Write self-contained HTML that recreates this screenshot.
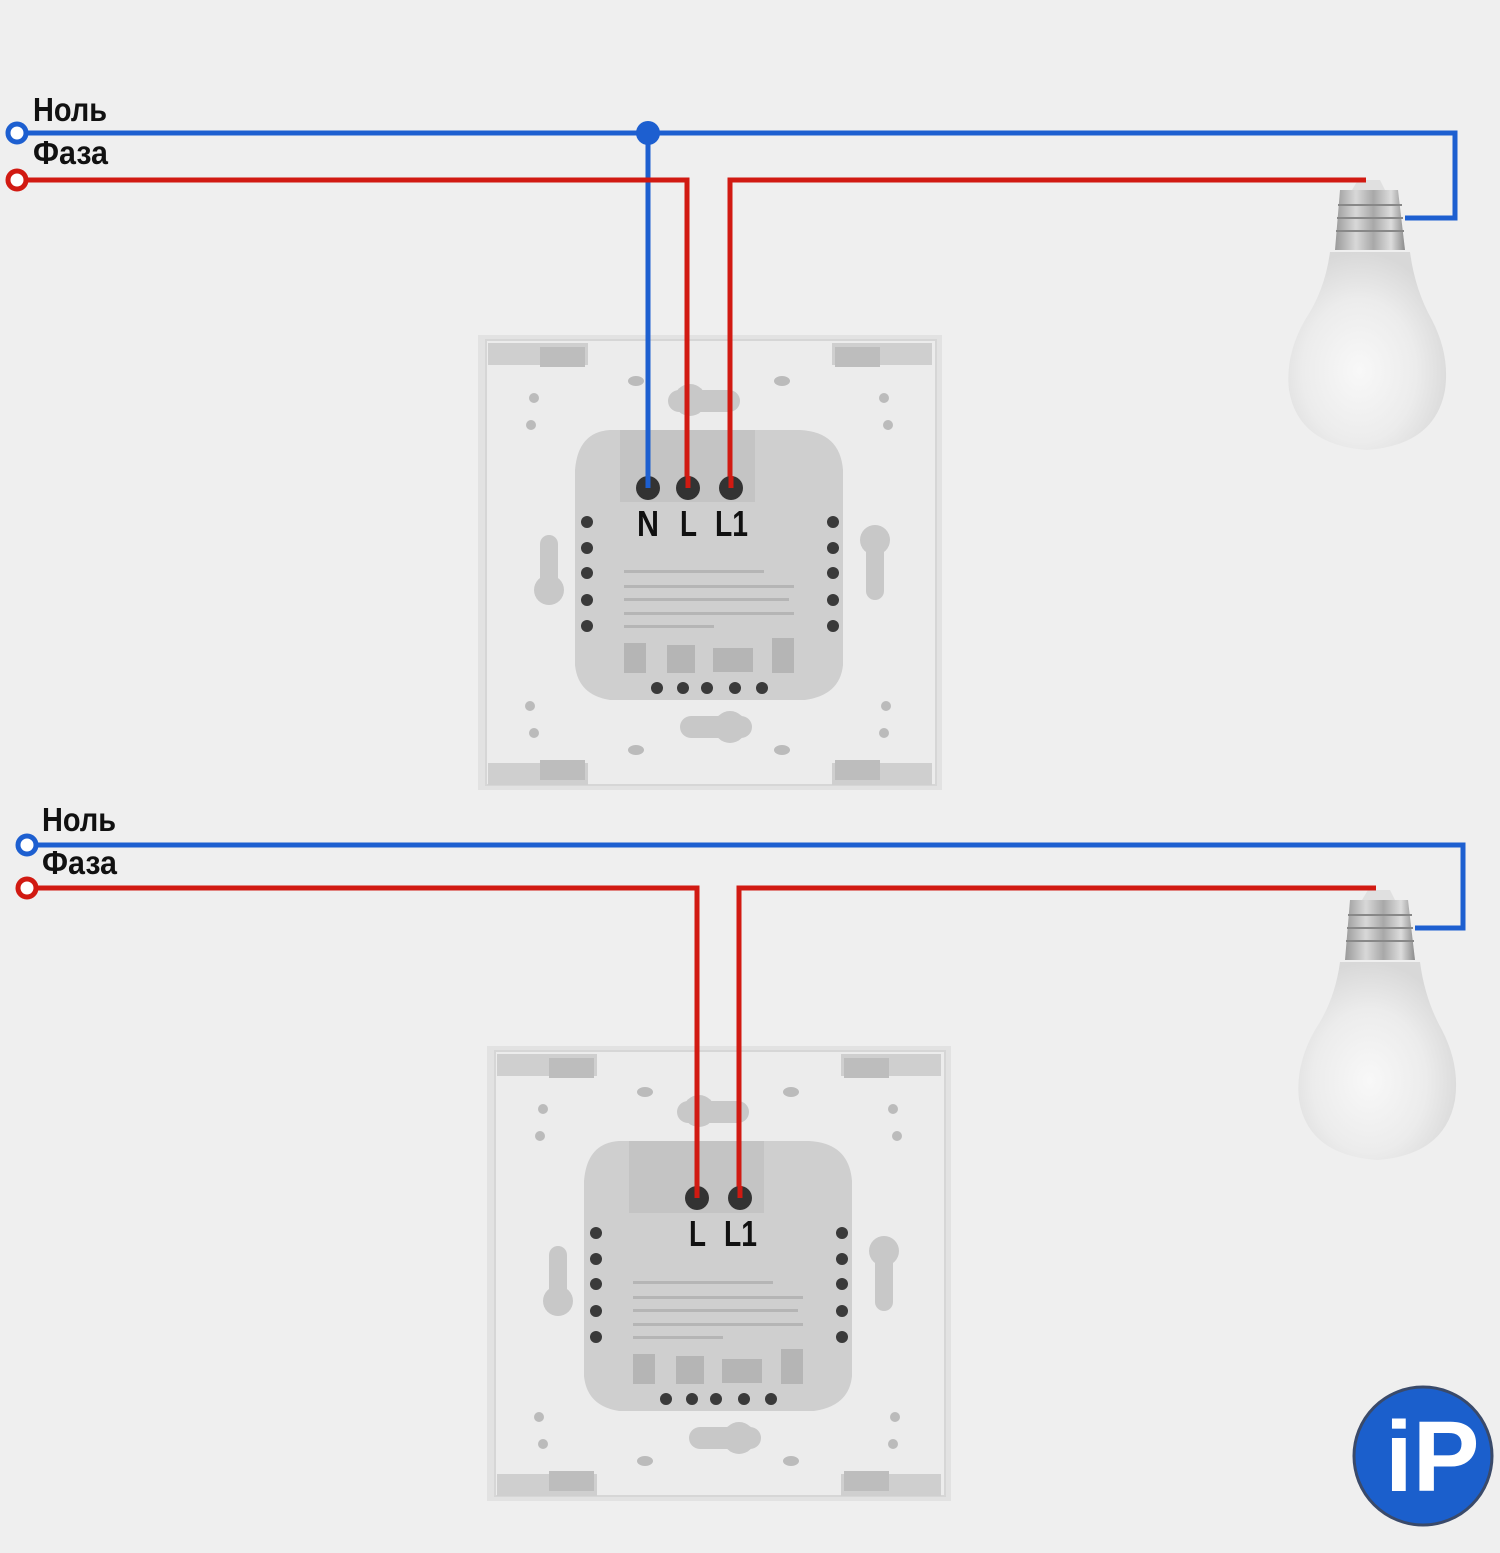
<!DOCTYPE html>
<html><head><meta charset="utf-8"><style>
html,body{margin:0;padding:0;background:#efefef}
svg{display:block}
.lbl{font-family:"Liberation Sans Narrow","Liberation Sans",sans-serif;font-weight:bold;font-size:33px;fill:#111}
.term{font-family:"Liberation Sans Narrow","Liberation Sans",sans-serif;font-weight:bold;font-size:36px;fill:#111}
</style></head><body>
<svg width="1500" height="1553" viewBox="0 0 1500 1553" xmlns="http://www.w3.org/2000/svg">
<defs>
<radialGradient id="glass" cx="0.45" cy="0.6" r="0.6">
<stop offset="0" stop-color="#f8f8f8"/><stop offset="0.6" stop-color="#ececec"/><stop offset="1" stop-color="#d8d8d8"/>
</radialGradient>
<linearGradient id="metal" x1="0" x2="1">
<stop offset="0" stop-color="#9a9a9a"/><stop offset="0.3" stop-color="#d8d8d8"/><stop offset="0.55" stop-color="#a8a8a8"/><stop offset="0.8" stop-color="#dcdcdc"/><stop offset="1" stop-color="#8c8c8c"/>
</linearGradient>
<g id="sw">
<rect x="478" y="335" width="464" height="455" fill="#e2e2e2"/>
<rect x="486" y="340" width="450" height="445" fill="#ececec" stroke="#d6d6d6" stroke-width="2"/>
<rect x="488" y="343" width="100" height="22" fill="#cfcfcf"/><rect x="540" y="347" width="45" height="20" fill="#bdbdbd"/>
<rect x="832" y="343" width="100" height="22" fill="#cfcfcf"/><rect x="835" y="347" width="45" height="20" fill="#bdbdbd"/>
<rect x="488" y="763" width="100" height="22" fill="#cfcfcf"/><rect x="540" y="760" width="45" height="20" fill="#bdbdbd"/>
<rect x="832" y="763" width="100" height="22" fill="#cfcfcf"/><rect x="835" y="760" width="45" height="20" fill="#bdbdbd"/>
<rect x="668" y="390" width="72" height="22" rx="11" fill="#c8c8c8"/><circle cx="690" cy="400" r="16" fill="#c8c8c8"/>
<rect x="680" y="716" width="72" height="22" rx="11" fill="#c8c8c8"/><circle cx="730" cy="727" r="16" fill="#c8c8c8"/>
<rect x="540" y="535" width="18" height="60" rx="9" fill="#c8c8c8"/><circle cx="549" cy="590" r="15" fill="#c8c8c8"/>
<rect x="866" y="535" width="18" height="65" rx="9" fill="#c8c8c8"/><circle cx="875" cy="540" r="15" fill="#c8c8c8"/>
<g fill="#bbb"><circle cx="534" cy="398" r="5"/><circle cx="531" cy="425" r="5"/><circle cx="884" cy="398" r="5"/><circle cx="888" cy="425" r="5"/>
<circle cx="530" cy="706" r="5"/><circle cx="534" cy="733" r="5"/><circle cx="886" cy="706" r="5"/><circle cx="884" cy="733" r="5"/>
<ellipse cx="636" cy="381" rx="8" ry="5"/><ellipse cx="782" cy="381" rx="8" ry="5"/><ellipse cx="636" cy="750" rx="8" ry="5"/><ellipse cx="782" cy="750" rx="8" ry="5"/></g>
<path d="M610 430 L800 430 Q840 432 843 470 L843 665 Q840 695 805 700 L610 700 Q578 695 575 665 L575 470 Q578 432 610 430 Z" fill="#cfcfcf"/>
<rect x="620" y="430" width="135" height="72" fill="#c4c4c4"/>
<g fill="#b5b5b5"><rect x="624" y="585" width="170" height="3"/><rect x="624" y="570" width="140" height="3"/><rect x="624" y="598" width="165" height="3"/><rect x="624" y="612" width="170" height="3"/><rect x="624" y="625" width="90" height="3"/>
<rect x="624" y="643" width="22" height="30"/><rect x="667" y="645" width="28" height="28"/><rect x="713" y="648" width="40" height="24"/><rect x="772" y="638" width="22" height="35"/></g>
<g fill="#3a3a3a">
<circle cx="587" cy="522" r="6"/><circle cx="587" cy="548" r="6"/><circle cx="587" cy="573" r="6"/><circle cx="587" cy="600" r="6"/><circle cx="587" cy="626" r="6"/>
<circle cx="833" cy="522" r="6"/><circle cx="833" cy="548" r="6"/><circle cx="833" cy="573" r="6"/><circle cx="833" cy="600" r="6"/><circle cx="833" cy="626" r="6"/>
<circle cx="657" cy="688" r="6"/><circle cx="683" cy="688" r="6"/><circle cx="707" cy="688" r="6"/><circle cx="735" cy="688" r="6"/><circle cx="762" cy="688" r="6"/></g>
</g>
<g id="bulb">
<path d="M1340 190 L1398 190 L1405 250 L1335 250 Z" fill="url(#metal)"/>
<g stroke="#888" stroke-width="2"><line x1="1338" y1="205" x2="1402" y2="205"/><line x1="1337" y1="218" x2="1403" y2="218"/><line x1="1336" y1="231" x2="1404" y2="231"/></g>
<path d="M1358 180 L1380 180 L1385 190 L1352 190 Z" fill="#e0e0e0"/>
<path d="M1330 252 L1410 252 Q1415 290 1432 320 Q1450 355 1445 390 Q1435 445 1367 450 Q1298 445 1289 390 Q1285 355 1305 320 Q1325 290 1330 252 Z" fill="url(#glass)"/>
</g>
</defs>
<rect width="1500" height="1553" fill="#efefef"/>

<use href="#sw"/>
<use href="#bulb"/>
<g fill="none" stroke-linejoin="miter" stroke-width="5">
<path d="M26 133 H1455 V218 H1405" stroke="#1d5fd0"/>
<path d="M648 133 V488" stroke="#1d5fd0"/>
<path d="M26 180 H687 V488" stroke="#d11a12"/>
<path d="M730 488 V180 H1366" stroke="#d11a12"/>
</g>
<circle cx="17" cy="133" r="9" fill="#fff" stroke="#1d5fd0" stroke-width="5"/>
<circle cx="17" cy="180" r="9" fill="#fff" stroke="#d11a12" stroke-width="5"/>
<circle cx="648" cy="133" r="12" fill="#1d5fd0"/>
<g fill="#333"><circle cx="648" cy="488" r="12"/><circle cx="688" cy="488" r="12"/><circle cx="731" cy="488" r="12"/></g>
<path d="M648 476 V488" stroke="#1d5fd0" stroke-width="5"/>
<path d="M688 476 V488 M731 476 V488" stroke="#d11a12" stroke-width="5"/>
<text class="lbl" x="33" y="121" textLength="74" lengthAdjust="spacingAndGlyphs">Ноль</text>
<text class="lbl" x="33" y="164" textLength="75" lengthAdjust="spacingAndGlyphs">Фаза</text>
<text class="term" x="637" y="536" textLength="22" lengthAdjust="spacingAndGlyphs">N</text>
<text class="term" x="680" y="536" textLength="17" lengthAdjust="spacingAndGlyphs">L</text>
<text class="term" x="715" y="536" textLength="33" lengthAdjust="spacingAndGlyphs">L1</text>

<g transform="translate(9,711)"><use href="#sw"/></g>
<g transform="translate(10,710)"><use href="#bulb"/></g>
<g fill="none" stroke-width="5">
<path d="M36 845 H1463 V928 H1415" stroke="#1d5fd0"/>
<path d="M36 888 H697 V1198" stroke="#d11a12"/>
<path d="M739 1198 V888 H1376" stroke="#d11a12"/>
</g>
<circle cx="27" cy="845" r="9" fill="#fff" stroke="#1d5fd0" stroke-width="5"/>
<circle cx="27" cy="888" r="9" fill="#fff" stroke="#d11a12" stroke-width="5"/>
<g fill="#333"><circle cx="697" cy="1198" r="12"/><circle cx="740" cy="1198" r="12"/></g>
<path d="M697 1186 V1198 M740 1186 V1198" stroke="#d11a12" stroke-width="5"/>
<text class="lbl" x="42" y="831" textLength="74" lengthAdjust="spacingAndGlyphs">Ноль</text>
<text class="lbl" x="42" y="874" textLength="75" lengthAdjust="spacingAndGlyphs">Фаза</text>
<text class="term" x="689" y="1246" textLength="17" lengthAdjust="spacingAndGlyphs">L</text>
<text class="term" x="724" y="1246" textLength="33" lengthAdjust="spacingAndGlyphs">L1</text>

<circle cx="1423" cy="1456" r="69" fill="#1b5fcc" stroke="#3a4a6a" stroke-width="3"/>
<text x="1385" y="1491" font-family="Liberation Sans, sans-serif" font-weight="bold" font-size="100" fill="#fff">iP</text>
</svg>
</body></html>
